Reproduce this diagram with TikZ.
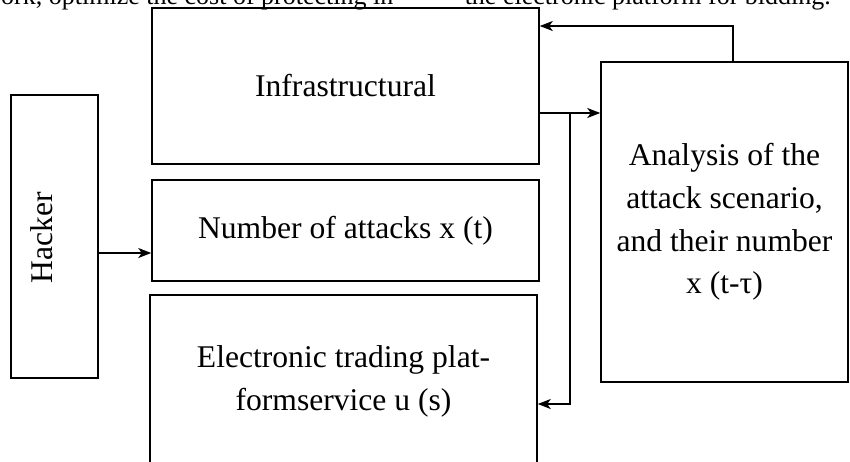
\documentclass[tikz,border=0pt]{standalone}
\usepackage{fontspec}
\setmainfont{Liberation Serif}
\usetikzlibrary{arrows.meta,calc}
\begin{document}
\begin{tikzpicture}[x=1pt,y=-1pt,
  box/.style={draw,line width=1.5pt,inner sep=0pt,align=center,font=\fontsize{31.6}{42.7}\selectfont},
  lbl/.style={inner sep=0pt,font=\fontsize{31.6}{42.7}\selectfont},
  arr/.style={line width=1.5pt,-{Stealth[length=13pt,width=10pt,inset=3.5pt]}},
  toptext/.style={inner sep=0pt,font=\fontsize{26}{30}\selectfont}]
\useasboundingbox (0,0) rectangle (850,461);
\clip (0,0) rectangle (850,461);
% partially visible running text at the top
\node[toptext,anchor=base west] (t1) at (1,4.5) {ork, optimize the cost of protecting in};
\node[toptext,anchor=base east] (t2) at (831,4.5) {the electronic platform for bidding.};
% boxes
\node[box,minimum width=387pt,minimum height=156pt] (infra) at (345.5,86) {Infrastructural};
\node[box,minimum width=387pt,minimum height=101pt] (number) at (345.5,230.5) {Number of attacks x (t)};
\node[box,minimum width=387pt,minimum height=173pt] (elec) at (343.5,381.5) {Electronic trading plat-\\formservice u (s)};
\node[box,minimum width=247pt,minimum height=320pt] (analysis) at (724.5,222) {Analysis of the\\attack scenario,\\and their number\\x (t-τ)};
\node[box,minimum width=87pt,minimum height=283pt] (hacker) at (54.5,236.5) {};
\node[lbl,rotate=90] (hackertxt) at (42,237.5) {Hacker};
% connectors
\path (hacker.east) ++(0,16.5) coordinate (hk);
\draw[arr] (hk) -- (hk -| number.west);
\path (infra.east) ++(0,27) coordinate (ie);
\draw[arr] (ie) -- (ie -| analysis.west);
\coordinate (br) at (570,113);
\coordinate (be) at (570,404);
\draw[arr] (br) -- (be) -- (be -| elec.east);
\coordinate (ta) at (733,26);
\draw[arr] (analysis.north -| ta) -- (ta) -- (ta -| infra.east);
\end{tikzpicture}
\end{document}
